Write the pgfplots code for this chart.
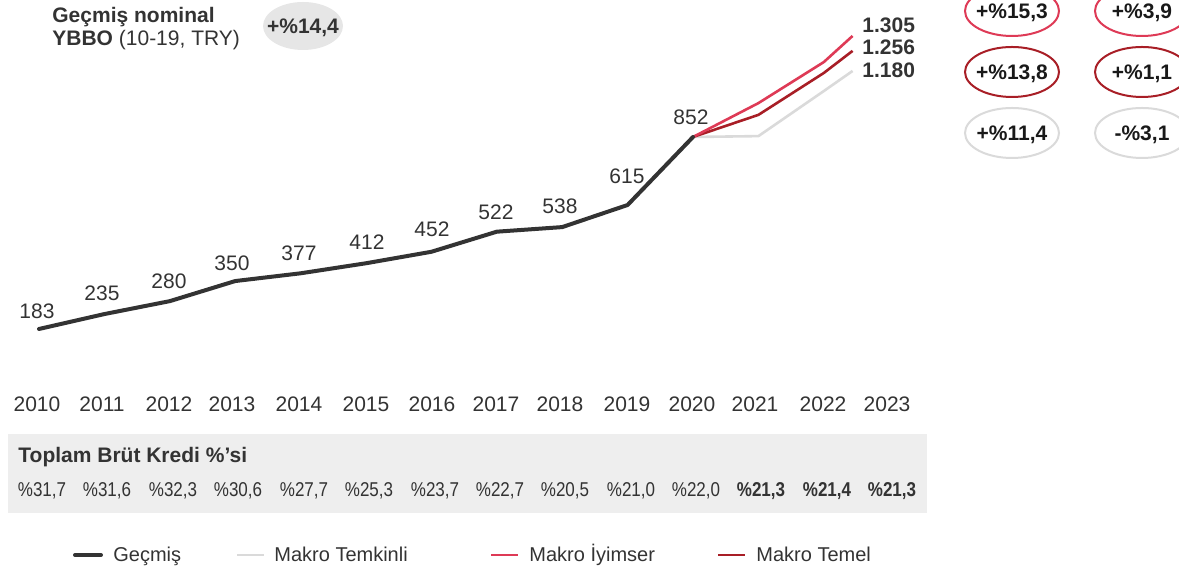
\documentclass[border=0pt]{standalone}
\usepackage{pgfplots}
\pgfplotsset{compat=1.18}
\usepackage{fontspec}
\setmainfont{Liberation Sans}
\newfontfamily\narrowfont[FakeStretch=0.85]{Liberation Sans}
\definecolor{cHist}{HTML}{333333}
\definecolor{cTemk}{HTML}{DADADA}
\definecolor{cIyim}{HTML}{DE3A56}
\definecolor{cTemel}{HTML}{A81E26}
\definecolor{boxgrey}{HTML}{EEEEEE}
\definecolor{ellgrey}{HTML}{E6E6E6}
\definecolor{txt}{HTML}{333333}
\newcommand\fs[1]{\fontsize{#1}{#1}\selectfont}
\begin{document}
\begin{tikzpicture}
\useasboundingbox (0,0) rectangle (589.5pt,285.5pt);
\begin{scope}[x=0.5pt,y=-0.5pt,shift={(0,285.5pt)}]
  % table box
  \fill[boxgrey] (8,434) rectangle (927,513);
  \node[anchor=base west,inner sep=0,text=txt,font=\fs{10.5pt}\bfseries] at (18,463) {Toplam Brüt Kredi \%'si};
  \node[anchor=base,inner sep=0,text=txt,font=\narrowfont\fs{10pt}] at (42,497) {\%31,7};
  \node[anchor=base,inner sep=0,text=txt,font=\narrowfont\fs{10pt}] at (107,497) {\%31,6};
  \node[anchor=base,inner sep=0,text=txt,font=\narrowfont\fs{10pt}] at (173,497) {\%32,3};
  \node[anchor=base,inner sep=0,text=txt,font=\narrowfont\fs{10pt}] at (238,497) {\%30,6};
  \node[anchor=base,inner sep=0,text=txt,font=\narrowfont\fs{10pt}] at (304,497) {\%27,7};
  \node[anchor=base,inner sep=0,text=txt,font=\narrowfont\fs{10pt}] at (369,497) {\%25,3};
  \node[anchor=base,inner sep=0,text=txt,font=\narrowfont\fs{10pt}] at (435,497) {\%23,7};
  \node[anchor=base,inner sep=0,text=txt,font=\narrowfont\fs{10pt}] at (500,497) {\%22,7};
  \node[anchor=base,inner sep=0,text=txt,font=\narrowfont\fs{10pt}] at (565,497) {\%20,5};
  \node[anchor=base,inner sep=0,text=txt,font=\narrowfont\fs{10pt}] at (631,497) {\%21,0};
  \node[anchor=base,inner sep=0,text=txt,font=\narrowfont\fs{10pt}] at (696,497) {\%22,0};
  \node[anchor=base,inner sep=0,text=txt,font=\narrowfont\fs{10pt}\bfseries] at (761,497) {\%21,3};
  \node[anchor=base,inner sep=0,text=txt,font=\narrowfont\fs{10pt}\bfseries] at (827,497) {\%21,4};
  \node[anchor=base,inner sep=0,text=txt,font=\narrowfont\fs{10pt}\bfseries] at (892,497) {\%21,3};
  % year labels
  \foreach \yr/\xx in {2010/37,2011/102,2012/169,2013/232,2014/299,2015/366,2016/432,2017/496,2018/560,2019/627,2020/692,2021/755,2022/823,2023/887}
    \node[anchor=base,inner sep=0,text=txt,font=\fs{10.5pt}] at (\xx,412) {\yr};
  % data labels
  \foreach \lab/\xx/\yy in {183/37/311,235/102/293,280/169/281,350/232/263,377/299/253,412/367/242,452/432/229,522/496/212,538/560/206,615/627/176,852/691/117}
    \node[anchor=base,inner sep=0,text=txt,font=\fs{10.5pt}] at (\xx,\yy+7.5) {\lab};
  % end labels
  \node[anchor=base west,inner sep=0,text=txt,font=\fs{10.5pt}\bfseries] at (862,32.5) {1.305};
  \node[anchor=base west,inner sep=0,text=txt,font=\fs{10.5pt}\bfseries] at (862,54.5) {1.256};
  \node[anchor=base west,inner sep=0,text=txt,font=\fs{10.5pt}\bfseries] at (862,77.5) {1.180};
  % title
  \node[anchor=base west,inner sep=0,text=txt,font=\fs{10.5pt}\bfseries] at (52,23) {Geçmiş nominal};
  \node[anchor=base west,inner sep=0,text=txt,font=\fs{10.5pt}] at (52,46) {\textbf{YBBO} (10-19, TRY)};
  \fill[ellgrey] (303,26) ellipse [x radius=20pt, y radius=12pt];
  \node[anchor=base,inner sep=0,text=txt,font=\fs{10.5pt}\bfseries] at (303,33.5) {+\%14,4};
  % right ellipses
  \draw[cIyim,line width=1pt] (1012,11) ellipse [x radius=23.5pt, y radius=12.5pt];
  \draw[cIyim,line width=1pt] (1142,11) ellipse [x radius=23.5pt, y radius=12.5pt];
  \draw[cTemel,line width=1pt] (1012,72) ellipse [x radius=23.5pt, y radius=12.5pt];
  \draw[cTemel,line width=1pt] (1142,72) ellipse [x radius=23.5pt, y radius=12.5pt];
  \draw[cTemk,line width=1pt] (1012,133) ellipse [x radius=23.5pt, y radius=12.5pt];
  \draw[cTemk,line width=1pt] (1142,133) ellipse [x radius=23.5pt, y radius=12.5pt];
  \node[anchor=base,inner sep=0,text=black!90,font=\fs{10.5pt}\bfseries] at (1012,19) {+\%15,3};
  \node[anchor=base,inner sep=0,text=black!90,font=\fs{10.5pt}\bfseries] at (1142,19) {+\%3,9};
  \node[anchor=base,inner sep=0,text=black!90,font=\fs{10.5pt}\bfseries] at (1012,80) {+\%13,8};
  \node[anchor=base,inner sep=0,text=black!90,font=\fs{10.5pt}\bfseries] at (1142,80) {+\%1,1};
  \node[anchor=base,inner sep=0,text=black!90,font=\fs{10.5pt}\bfseries] at (1012,141) {+\%11,4};
  \node[anchor=base,inner sep=0,text=black!90,font=\fs{10.5pt}\bfseries] at (1142,141) {-\%3,1};
  % legend
  \draw[cHist,line width=2pt,line cap=round] (75,555) -- (101,555);
  \node[anchor=base west,inner sep=0,text=txt,font=\fs{10pt}] at (113,562) {Geçmiş};
  \draw[cTemk,line width=1.3pt] (237,555) -- (264,555);
  \node[anchor=base west,inner sep=0,text=txt,font=\fs{10pt}] at (274,562) {Makro Temkinli};
  \draw[cIyim,line width=1.3pt] (491,555) -- (518,555);
  \node[anchor=base west,inner sep=0,text=txt,font=\fs{10pt}] at (529,562) {Makro İyimser};
  \draw[cTemel,line width=1.3pt] (718,555) -- (745,555);
  \node[anchor=base west,inner sep=0,text=txt,font=\fs{10pt}] at (756,562) {Makro Temel};
\end{scope}
\begin{axis}[at={(0,0)}, anchor=south west, scale only axis,
  width=589.5pt, height=285.5pt,
  xmin=2009.4037, xmax=2027.431, ymin=-660.2, ymax=1329.3,
  hide axis, clip=false]
\addplot[cTemk, line width=1.3pt, line join=round] coordinates {(2020,852) (2021,855) (2022,1012) (2022.44,1082)};
\addplot[cTemel, line width=1.3pt, line join=round] coordinates {(2020,852) (2021,929) (2022,1075) (2022.44,1152)};
\addplot[cIyim, line width=1.3pt, line join=round] coordinates {(2020,852) (2021,970) (2022,1113) (2022.44,1204)};
\addplot[cHist, line width=2pt, line join=round, line cap=round] coordinates {
(2010,183) (2011,235) (2012,280) (2013,350) (2014,377) (2015,412) (2016,452) (2017,522) (2018,538) (2019,615) (2020,852)};
\end{axis}
\end{tikzpicture}
\end{document}
